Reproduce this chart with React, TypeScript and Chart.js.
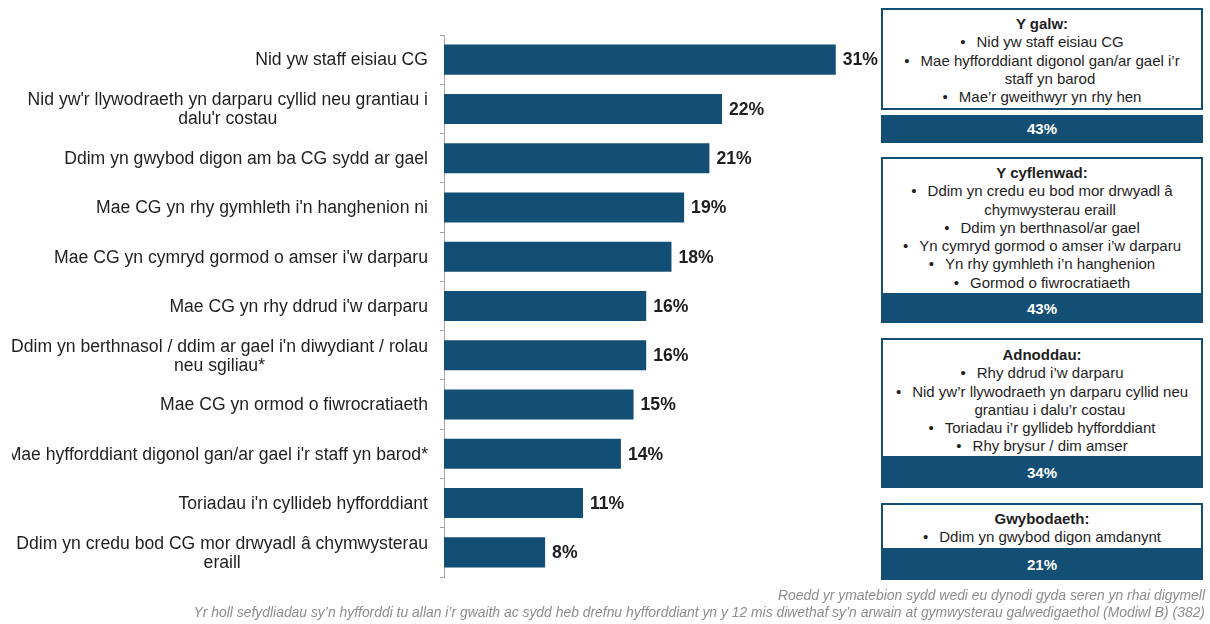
import React, { useEffect, useRef } from "react";
import { Chart, registerables } from "chart.js";

Chart.register(...registerables);

// ---------- data ----------
const categories: string[][] = [
  ["Nid yw staff eisiau CG"],
  ["Nid yw'r llywodraeth yn darparu cyllid neu grantiau i", "dalu'r costau"],
  ["Ddim yn gwybod digon am ba CG sydd ar gael"],
  ["Mae CG yn rhy gymhleth i'n hanghenion ni"],
  ["Mae CG yn cymryd gormod o amser i'w darparu"],
  ["Mae CG yn rhy ddrud i'w darparu"],
  ["Ddim yn berthnasol / ddim ar gael i'n diwydiant / rolau", "neu sgiliau*"],
  ["Mae CG yn ormod o fiwrocratiaeth"],
  ["Mae hyfforddiant digonol gan/ar gael i'r staff yn barod*"],
  ["Toriadau i'n cyllideb hyfforddiant"],
  ["Ddim yn credu bod CG mor drwyadl â chymwysterau", "eraill"],
];
const values: number[] = [31, 22, 21, 19, 18, 16, 16, 15, 14, 11, 8];

const boxTitles: string[] = ["Y galw:", "Y cyflenwad:", "Adnoddau:", "Gwybodaeth:"];
const boxItems: string[][][] = [
  [
    ["Nid yw staff eisiau CG"],
    ["Mae hyfforddiant digonol gan/ar gael i’r", "staff yn barod"],
    ["Mae’r gweithwyr yn rhy hen"],
  ],
  [
    ["Ddim yn credu eu bod mor drwyadl â", "chymwysterau eraill"],
    ["Ddim yn berthnasol/ar gael"],
    ["Yn cymryd gormod o amser i’w darparu"],
    ["Yn rhy gymhleth i’n hanghenion"],
    ["Gormod o fiwrocratiaeth"],
  ],
  [
    ["Rhy ddrud i’w darparu"],
    ["Nid yw’r llywodraeth yn darparu cyllid neu", "grantiau i dalu’r costau"],
    ["Toriadau i’r gyllideb hyfforddiant"],
    ["Rhy brysur / dim amser"],
  ],
  [["Ddim yn gwybod digon amdanynt"]],
];
const boxPercents: number[] = [43, 43, 34, 21];

const footnotes: string[] = [
  "Roedd yr ymatebion sydd wedi eu dynodi gyda seren yn rhai digymell",
  "Yr holl sefydliadau sy’n hyfforddi tu allan i’r gwaith ac sydd heb drefnu hyfforddiant yn y 12 mis diwethaf sy’n arwain at gymwysterau galwedigaethol (Modiwl B) (382)",
];

// ---------- layout / style ----------
const FONT = '"Liberation Sans", Arial, Helvetica, sans-serif';
const BLUE = "#134f74";
const LABEL_SIZE = 17.6;
const LABEL_LINE = 19;
const LABEL_CLIP_LEFT = 12;

const boxLayout = [
  { top: 8, height: 102, barTop: 115, barH: 28, pad: 5 },
  { top: 157, height: 138, barTop: 295, barH: 28, pad: 5 },
  { top: 338, height: 120, barTop: 458, barH: 30, pad: 6 },
  { top: 503, height: 47, barTop: 550, barH: 30, pad: 5 },
];

const labelPlugin = {
  id: "customLabels",
  afterDraw(chart: any) {
    const ctx = chart.ctx as CanvasRenderingContext2D;
    const yScale = chart.scales.y;
    ctx.save();
    ctx.beginPath();
    ctx.rect(LABEL_CLIP_LEFT, 0, chart.width, chart.height);
    ctx.clip();
    ctx.font = `${LABEL_SIZE}px ${FONT}`;
    ctx.fillStyle = "#1f1f1f";
    ctx.textBaseline = "middle";
    ctx.textAlign = "center";
    const right = chart.chartArea.left - 16;
    categories.forEach((lines, i) => {
      const cy = yScale.getPixelForTick(i);
      const widest = Math.max(...lines.map((l) => ctx.measureText(l).width));
      const cx = right - widest / 2;
      const top = cy - ((lines.length - 1) * LABEL_LINE) / 2;
      lines.forEach((l, j) => ctx.fillText(l, cx, top + j * LABEL_LINE + 1));
    });
    const meta = chart.getDatasetMeta(0);
    ctx.font = `bold ${LABEL_SIZE}px ${FONT}`;
    ctx.fillStyle = "#1e1e1e";
    ctx.textAlign = "left";
    meta.data.forEach((bar: any, i: number) => {
      ctx.fillText(`${values[i]}%`, bar.x + 7, bar.y + 1);
    });
    ctx.restore();
  },
};

function BarChart() {
  const ref = useRef<HTMLCanvasElement | null>(null);
  useEffect(() => {
    if (!ref.current) return;
    const chart = new Chart(ref.current, {
      type: "bar",
      data: {
        labels: categories as any,
        datasets: [
          {
            data: values,
            backgroundColor: BLUE,
            borderWidth: 0,
            barPercentage: 0.61,
            categoryPercentage: 1,
          },
        ],
      },
      options: {
        indexAxis: "y",
        animation: false,
        responsive: false,
        devicePixelRatio: 1,
        layout: { padding: { top: 35, bottom: 47, left: 0, right: 0 } },
        plugins: { legend: { display: false }, tooltip: { enabled: false } },
        scales: {
          x: { display: false, min: 0, max: 34.5 },
          y: {
            afterFit: (s: any) => {
              s.width = 444;
            },
            border: { display: true, color: "#a6a6a6", width: 1 },
            grid: {
              drawOnChartArea: false,
              drawTicks: true,
              tickLength: 4,
              color: "#a6a6a6",
              offset: true,
            },
            ticks: { display: false },
          },
        },
      },
      plugins: [labelPlugin],
    });
    return () => chart.destroy();
  }, []);
  return (
    <canvas
      ref={ref}
      width={880}
      height={624}
      style={{ position: "absolute", left: 0, top: 0, width: 880, height: 624 }}
    />
  );
}

function Boxes() {
  return (
    <>
      {boxTitles.map((title, b) => {
        const L = boxLayout[b];
        return (
          <React.Fragment key={b}>
            <div
              style={{
                position: "absolute",
                left: 881,
                width: 322,
                top: L.top,
                height: L.height,
                boxSizing: "border-box",
                border: `2px solid ${BLUE}`,
                background: "#fff",
                paddingTop: L.pad,
                fontFamily: FONT,
                fontSize: 15,
                lineHeight: "18.3px",
                color: "#1e1e1e",
                textAlign: "center",
              }}
            >
              <div style={{ fontWeight: "bold" }}>{title}</div>
              {boxItems[b].map((lines, k) =>
                lines.map((line, j) => (
                  <div key={`${k}-${j}`} style={{ paddingLeft: j === 0 ? 0 : 16, whiteSpace: "nowrap" }}>
                    {j === 0 && <span style={{ marginRight: 11 }}>•</span>}
                    {line}
                  </div>
                ))
              )}
            </div>
            <div
              style={{
                position: "absolute",
                left: 881,
                width: 322,
                top: L.barTop,
                height: L.barH,
                background: BLUE,
                color: "#fff",
                fontFamily: FONT,
                fontWeight: "bold",
                fontSize: 15,
                lineHeight: `${L.barH}px`,
                textAlign: "center",
              }}
            >
              {`${boxPercents[b]}%`}
            </div>
          </React.Fragment>
        );
      })}
    </>
  );
}

export default function App() {
  return (
    <div
      style={{
        position: "fixed",
        left: 0,
        top: 0,
        width: 1210,
        height: 624,
        background: "#fff",
        overflow: "hidden",
      }}
    >
      <BarChart />
      <Boxes />
      <div
        style={{
          position: "absolute",
          right: 5,
          top: 587,
          fontFamily: FONT,
          fontStyle: "italic",
          fontSize: 13.9,
          lineHeight: "17px",
          color: "#8c8c8c",
          textAlign: "right",
          whiteSpace: "nowrap",
        }}
      >
        {footnotes.map((f, i) => (
          <div key={i}>{f}</div>
        ))}
      </div>
    </div>
  );
}
